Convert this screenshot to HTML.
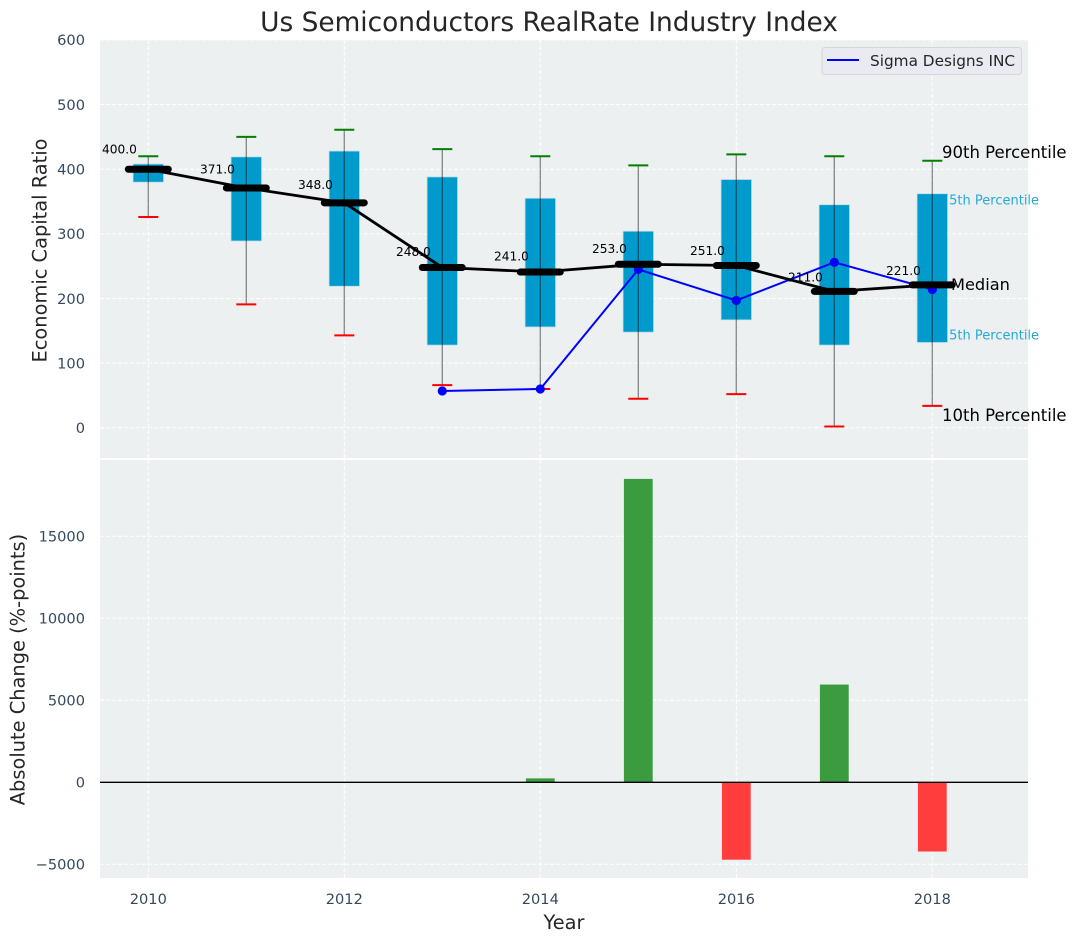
<!DOCTYPE html>
<html>
<head>
<meta charset="utf-8">
<title>Us Semiconductors RealRate Industry Index</title>
<style>
html,body{margin:0;padding:0;background:#fff;width:1077px;height:942px;overflow:hidden}
svg{display:block;font-family:"DejaVu Sans","Liberation Sans",sans-serif}
</style>
</head>
<body>
<svg id="chart" width="1077" height="942" viewBox="0 0 1077 942" xmlns="http://www.w3.org/2000/svg">
<rect x="100" y="40" width="928" height="418" fill="#ecf0f1"/>
<rect x="100" y="460" width="928" height="418" fill="#ecf0f1"/>
<g id="grid"></g>
<g id="annotLow"></g>
<g id="boxes"></g>
<g id="whiskers"></g>
<g id="bars"></g>
<g id="sigma"></g>
<g id="median"></g>
<g id="labels"></g>
<g id="ticks"></g>
<text x="549" y="31" text-anchor="middle" font-size="26.4" fill="#262626">Us Semiconductors RealRate Industry Index</text>
<text transform="translate(46.5,250.5) rotate(-90)" text-anchor="middle" font-size="19.4" fill="#262626">Economic Capital Ratio</text>
<text transform="translate(24.5,669.5) rotate(-90)" text-anchor="middle" font-size="19.4" fill="#262626">Absolute Change (%-points)</text>
<text x="564" y="929" text-anchor="middle" font-size="19.4" fill="#262626">Year</text>
<g>
<rect x="822" y="47.5" width="199.5" height="27" rx="3" fill="#eaeaf2" stroke="#d4d6da" stroke-width="1"/>
<line x1="827" y1="60" x2="859" y2="60" stroke="#0000ff" stroke-width="2"/>
<text x="870" y="66" font-size="15.3" fill="#262626">Sigma Designs INC</text>
</g>
<text x="942" y="158" font-size="16.5" fill="#000">90th Percentile</text>
<text x="951" y="290" font-size="16.2" fill="#000">Median</text>
<text x="942" y="421" font-size="16.5" fill="#000">10th Percentile</text>
</svg>
<script>
const years = [2010, 2011, 2012, 2013, 2014, 2015, 2016, 2017, 2018];
const p10 = [326, 191, 143, 66, 60, 45, 52, 2, 34];
const p25 = [380, 289, 219, 128, 156, 148, 167, 128, 132];
const medians = [400, 371, 348, 248, 241, 253, 251, 211, 221];
const p75 = [408, 419, 428, 388, 355, 304, 384, 345, 362];
const p90 = [420, 450, 461, 431, 420, 406, 423, 420, 413];
const sigmaYears = [2013, 2014, 2015, 2016, 2017, 2018];
const sigmaValues = [57, 60, 245, 197, 256, 214];
const changeYears = [2014, 2015, 2016, 2017, 2018];
const changeValues = [240, 18500, -4720, 5960, -4220];
const xTickLabels = [2010, 2012, 2014, 2016, 2018];
const topYTicks = [0, 100, 200, 300, 400, 500, 600];
const bottomYTicks = [-5000, 0, 5000, 10000, 15000];
const medianLabelLift = [24, 22, 21, 17.7, 17.5, 17, 16.5, 15, 15];

const NS = 'http://www.w3.org/2000/svg';
const xScale = v => 148.3 + (v - 2010) * 98;
const yTop = v => 427.8 - v * 0.6465;
const yBottom = v => 782.3 - v * 0.0164;
const TICK = '#34495e';

function mk(parent, tag, attrs, txt) {
  const el = document.createElementNS(NS, tag);
  for (const k in attrs) el.setAttribute(k, attrs[k]);
  if (txt !== undefined) el.textContent = txt;
  document.getElementById(parent).appendChild(el);
  return el;
}
function fmt(v) { return v < 0 ? '\u2212' + Math.abs(v) : String(v); }

/* grid */
xTickLabels.forEach(v => {
  [[40, 458], [460, 878]].forEach(r => {
    const el = mk('grid', 'line', {x1: xScale(v), x2: xScale(v), y1: r[0], y2: r[1], stroke: '#fff', 'stroke-width': 1, 'stroke-dasharray': '4 2'});
    
    
  });
});
topYTicks.forEach(v => {
  const el = mk('grid', 'line', {x1: 100, x2: 1028, y1: yTop(v), y2: yTop(v), stroke: '#fff', 'stroke-width': 1, 'stroke-dasharray': '4 2'});
  
  
  const t = mk('ticks', 'text', {x: 85, y: yTop(v) + 5.3, 'text-anchor': 'end', 'font-size': 14.6, fill: TICK}, fmt(v));
  
  
});
bottomYTicks.forEach(v => {
  const el = mk('grid', 'line', {x1: 100, x2: 1028, y1: yBottom(v), y2: yBottom(v), stroke: '#fff', 'stroke-width': 1, 'stroke-dasharray': '4 2'});
  
  
  const t = mk('ticks', 'text', {x: 85, y: yBottom(v) + 5.3, 'text-anchor': 'end', 'font-size': 14.6, fill: TICK}, fmt(v));
  
  
});
xTickLabels.forEach(v => {
  const t = mk('ticks', 'text', {x: xScale(v), y: 904, 'text-anchor': 'middle', 'font-size': 14.6, fill: TICK}, String(v));
  
  
});

/* percentile captions behind last box */
const lastIdx = years.length - 1;
const cap75 = mk('annotLow', 'text', {x: xScale(years[lastIdx]) + 8.6, y: yTop(p75[lastIdx]) + 10.5, 'font-size': 13, fill: '#27a9d4'}, '75th Percentile');


const cap25 = mk('annotLow', 'text', {x: xScale(years[lastIdx]) + 8.6, y: yTop(p25[lastIdx]) - 3, 'font-size': 13, fill: '#27a9d4'}, '25th Percentile');



/* boxes and whiskers */
years.forEach((yr, i) => {
  const cx = xScale(yr);
  const box = mk('boxes', 'rect', {x: cx - 15.2, y: yTop(p75[i]), width: 30.4, height: yTop(p25[i]) - yTop(p75[i]), fill: '#009bcc', stroke: '#b5dbe8', 'stroke-width': 0.7});
  
  
  const wh = mk('whiskers', 'line', {x1: cx, x2: cx, y1: yTop(p90[i]), y2: yTop(p10[i]), stroke: '#000', 'stroke-opacity': 0.42, 'stroke-width': 1.4});
  
  
  const hi = mk('whiskers', 'line', {x1: cx - 10, x2: cx + 10, y1: yTop(p90[i]), y2: yTop(p90[i]), stroke: '#008000', 'stroke-width': 2});
  
  
  const lo = mk('whiskers', 'line', {x1: cx - 10, x2: cx + 10, y1: yTop(p10[i]), y2: yTop(p10[i]), stroke: '#ff0000', 'stroke-width': 2});
  
  
});

/* change bars */
changeYears.forEach((yr, i) => {
  const v = changeValues[i];
  const cx = xScale(yr);
  const y0 = yBottom(Math.max(v, 0));
  const y1 = yBottom(Math.min(v, 0));
  const b = mk('bars', 'rect', {x: cx - 14.4, y: y0, width: 28.8, height: y1 - y0, fill: v >= 0 ? '#3a9c3f' : '#ff3d3d'});
  
  
});
const zero = mk('bars', 'line', {x1: 100, x2: 1028, y1: yBottom(0), y2: yBottom(0), stroke: '#000', 'stroke-width': 1.3});



/* sigma series */
const sigmaLine = mk('sigma', 'polyline', {points: sigmaYears.map((yr, i) => xScale(yr) + ',' + yTop(sigmaValues[i])).join(' '), fill: 'none', stroke: '#0000ff', 'stroke-width': 2});


sigmaYears.forEach((yr, i) => {
  const p = mk('sigma', 'circle', {cx: xScale(yr), cy: yTop(sigmaValues[i]), r: 4.6, fill: '#0000ff'});
  
  
});

/* median series */
const medLine = mk('median', 'polyline', {points: years.map((yr, i) => xScale(yr) + ',' + yTop(medians[i])).join(' '), fill: 'none', stroke: '#000', 'stroke-width': 2.8});


years.forEach((yr, i) => {
  const cx = xScale(yr);
  const m = mk('median', 'line', {x1: cx - 20, x2: cx + 20, y1: yTop(medians[i]), y2: yTop(medians[i]), stroke: '#000', 'stroke-width': 7, 'stroke-linecap': 'round'});
  
  
  const t = mk('labels', 'text', {x: cx - 46.3, y: yTop(medians[i] + medianLabelLift[i]), 'font-size': 12.2, fill: '#000'}, medians[i].toFixed(1));
  
  
});
</script>
</body>
</html>
